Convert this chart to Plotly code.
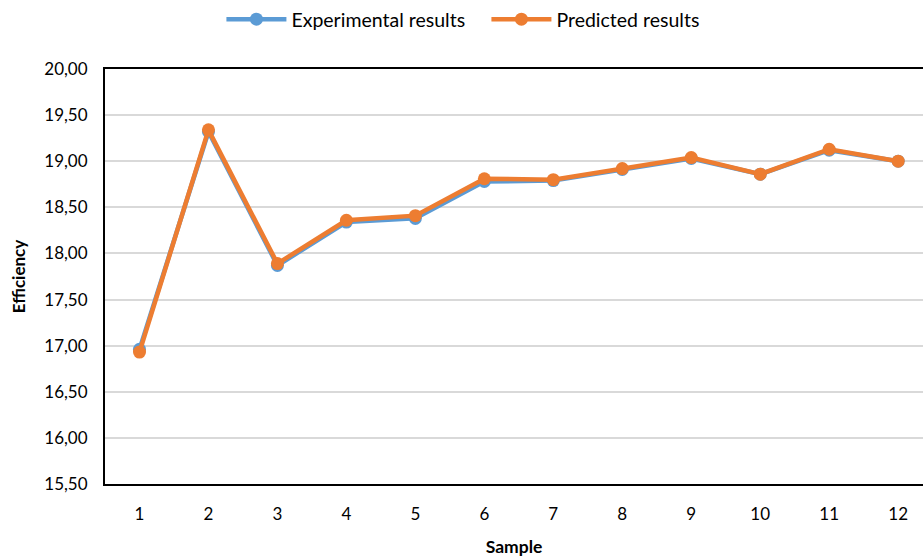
import plotly.graph_objects as go

# Sample numbers and efficiency values
samples = [1, 2, 3, 4, 5, 6, 7, 8, 9, 10, 11, 12]
experimental = [16.96, 19.32, 17.87, 18.34, 18.38, 18.78, 18.79, 18.91, 19.03, 18.86, 19.12, 19.00]
predicted = [16.93, 19.34, 17.89, 18.36, 18.41, 18.81, 18.80, 18.92, 19.04, 18.86, 19.13, 19.00]
y_ticks = [15.5, 16.0, 16.5, 17.0, 17.5, 18.0, 18.5, 19.0, 19.5, 20.0]

BLUE = "#5B9BD5"
ORANGE = "#ED7D31"
FONT = "Lato"

fig = go.Figure()
fig.add_trace(go.Scatter(
    x=samples, y=experimental, name="Experimental results",
    mode="lines+markers",
    line=dict(color=BLUE, width=4.5),
    marker=dict(color=BLUE, size=13),
))
fig.add_trace(go.Scatter(
    x=samples, y=predicted, name="Predicted results",
    mode="lines+markers",
    line=dict(color=ORANGE, width=4.5),
    marker=dict(color=ORANGE, size=13),
))

fig.update_layout(
    width=923, height=557,
    margin=dict(l=105, r=0, t=69, b=73),
    paper_bgcolor="white", plot_bgcolor="white",
    separators=",.",
    font=dict(family=FONT, size=17, color="#000000"),
    showlegend=True,
    legend=dict(
        orientation="h", xref="container", yref="container",
        x=0.527, xanchor="center", y=1.0, yanchor="top",
        font=dict(family=FONT, size=19.5, color="#000000"),
        itemwidth=60, entrywidth=190, traceorder="normal",
    ),
    xaxis=dict(
        range=[0.5, 12.36],
        tickmode="array", tickvals=samples, ticktext=[str(s) for s in samples],
        showgrid=False, zeroline=False,
        showline=True, linecolor="#000000", linewidth=2, mirror=True,
        ticks="", ticklabelstandoff=14,
        tickfont=dict(family=FONT, size=17),
        title=dict(text="<b>Sample</b>", font=dict(family=FONT, size=17.5), standoff=18),
    ),
    yaxis=dict(
        range=[15.5, 20.0],
        tickmode="array", tickvals=y_ticks, tickformat=".2f",
        showgrid=True, gridcolor="#D9D9D9", gridwidth=1.5,
        zeroline=False,
        showline=True, linecolor="#000000", linewidth=2,
        ticks="", ticklabelstandoff=12,
        tickfont=dict(family=FONT, size=17),
        title=dict(text="<b>Efficiency</b>", font=dict(family=FONT, size=17), standoff=14),
    ),
)

fig.write_html("out.html")
